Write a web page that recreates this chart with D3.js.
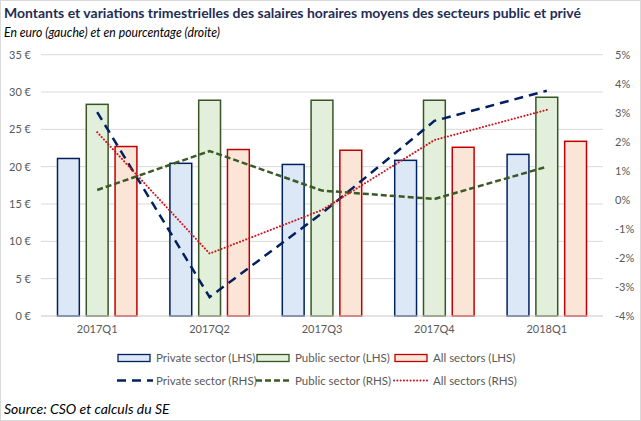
<!DOCTYPE html>
<html><head><meta charset="utf-8">
<script src="https://cdn.jsdelivr.net/npm/d3@7"></script>
<style>
body{margin:0;background:#fff;}
svg{display:block;font-family:Lato, "Open Sans", sans-serif;}
</style></head>
<body><svg id="c" width="641" height="421"></svg>
<script>
const categories = ["2017Q1","2017Q2","2017Q3","2017Q4","2018Q1"];
const privateLHS = [21.1, 20.45, 20.3, 20.85, 21.65];
const publicLHS  = [28.35, 28.9, 28.9, 28.9, 29.3];
const allLHS     = [22.7, 22.3, 22.2, 22.6, 23.4];
const privateRHS = [3.02, -3.35, -0.46, 2.72, 3.76];
const publicRHS  = [0.34, 1.68, 0.32, 0.03, 1.14];
const allRHS     = [2.33, -1.85, -0.35, 2.06, 3.1];
const leftTicks = [0,5,10,15,20,25,30,35];
const rightTicks = [-4,-3,-2,-1,0,1,2,3,4,5];
const barSeries = [
  {name:"Private sector (LHS)", values: privateLHS, fill:"#dce8f5", stroke:"#002060"},
  {name:"Public sector (LHS)", values: publicLHS, fill:"#e2efda", stroke:"#375623"},
  {name:"All sectors (LHS)", values: allLHS, fill:"#fbe5d6", stroke:"#c00000"}
];
const lineSeries = [
  {name:"Private sector (RHS)", values: privateRHS, stroke:"#002060", dash:"9,6", width:2.5, cap:"butt"},
  {name:"Public sector (RHS)", values: publicRHS, stroke:"#3b5a26", dash:"6,3", width:2.5, cap:"butt"},
  {name:"All sectors (RHS)", values: allRHS, stroke:"#d0141c", dash:"0.1,3.2", width:2, cap:"round"}
];

const svg = d3.select("#c");
svg.append("rect").attr("x",0.5).attr("y",0.5).attr("width",640).attr("height",420)
  .attr("fill","#fff").attr("stroke","#d9d9d9");

const L = 41, R = 603, T = 54.7, B = 316;
const x0 = d3.scaleBand().domain(categories).range([L,R]).padding(0);
const bw = x0.bandwidth();
const x1 = d3.scaleBand().domain(barSeries.map(d=>d.name)).range([16, bw-16]).paddingInner(0.207).paddingOuter(0);
const yL = d3.scaleLinear().domain([0,35]).range([B,T]);
const yR = d3.scaleLinear().domain([-4,5]).range([B,T]);

// gridlines
svg.append("g").selectAll("line").data(leftTicks).join("line")
  .attr("x1",L).attr("x2",R).attr("y1",d=>yL(d)).attr("y2",d=>yL(d))
  .attr("stroke","#d9d9d9").attr("stroke-width",1);

// left axis
const la = svg.append("g").attr("transform",`translate(${L},0)`)
  .call(d3.axisLeft(yL).tickValues(leftTicks).tickFormat(d=>d+" €").tickSize(0).tickPadding(10));
la.select(".domain").remove();
la.selectAll("text").attr("fill","#595959").style("font-size","11px").style("font-family","Lato");

// right axis
const ra = svg.append("g").attr("transform",`translate(${R+12},0)`)
  .call(d3.axisRight(yR).tickValues(rightTicks).tickFormat(d=>d+"%").tickSize(0).tickPadding(0));
ra.select(".domain").remove();
ra.selectAll("text").attr("fill","#595959").style("font-size","11px").style("font-family","Lato");

// bars
const groups = svg.append("g").selectAll("g").data(categories).join("g")
  .attr("transform",d=>`translate(${x0(d)},0)`);
groups.selectAll("rect").data((c,i)=>barSeries.map(s=>({s, v:s.values[i]}))).join("rect")
  .attr("x",d=>x1(d.s.name)+0.5).attr("width",x1.bandwidth()-1)
  .attr("y",d=>yL(d.v)).attr("height",d=>B-yL(d.v))
  .attr("fill",d=>d.s.fill).attr("stroke",d=>d.s.stroke).attr("stroke-width",1.5);

// bottom axis line
svg.append("line").attr("x1",L).attr("x2",R).attr("y1",B).attr("y2",B).attr("stroke","#d9d9d9");

// x labels
const xa = svg.append("g").attr("transform",`translate(0,${B})`)
  .call(d3.axisBottom(x0).tickSize(0).tickPadding(9));
xa.select(".domain").remove();
xa.selectAll("text").attr("fill","#595959").style("font-size","11px").style("font-family","Lato");

// lines
const line = d3.line().x((d,i)=>x0(categories[i])+bw/2).y(d=>yR(d));
lineSeries.forEach(s=>{
  svg.append("path").datum(s.values).attr("d",line).attr("fill","none")
    .attr("stroke",s.stroke).attr("stroke-width",s.width).attr("stroke-dasharray",s.dash)
    .attr("stroke-linecap",s.cap);
});

// legend
const legX = [117, 256, 394];
const lg = svg.append("g");
barSeries.forEach((s,i)=>{
  lg.append("rect").attr("x",legX[i]+1).attr("y",354.5).attr("width",32).attr("height",7)
    .attr("fill",s.fill).attr("stroke",s.stroke).attr("stroke-width",1.3);
  lg.append("text").attr("x",legX[i]+39).attr("y",362).text(s.name)
    .attr("fill","#595959").style("font-size","11.5px");
});
lineSeries.forEach((s,i)=>{
  lg.append("line").attr("x1",legX[i]).attr("x2",legX[i]+36).attr("y1",380.5).attr("y2",380.5)
    .attr("stroke",s.stroke).attr("stroke-width",s.width).attr("stroke-dasharray",s.dash).attr("stroke-linecap",s.cap);
  lg.append("text").attr("x",legX[i]+39).attr("y",384.5).text(s.name)
    .attr("fill","#595959").style("font-size","11.5px");
});

// titles
svg.append("text").attr("x",4).attr("y",18).text("Montants et variations trimestrielles des salaires horaires moyens des secteurs public et privé")
  .attr("fill","#1f2d55").style("font-weight","bold").style("font-size","14px").attr("textLength",577).attr("lengthAdjust","spacingAndGlyphs");
svg.append("text").attr("x",4).attr("y",37).text("En euro (gauche) et en pourcentage (droite)")
  .attr("fill","#000").style("font-style","italic").style("font-size","13.5px").attr("textLength",216).attr("lengthAdjust","spacingAndGlyphs");
svg.append("text").attr("x",4).attr("y",414).text("Source: CSO et calculs du SE")
  .attr("fill","#000").style("font-style","italic").style("font-size","14px");
</script></body></html>
